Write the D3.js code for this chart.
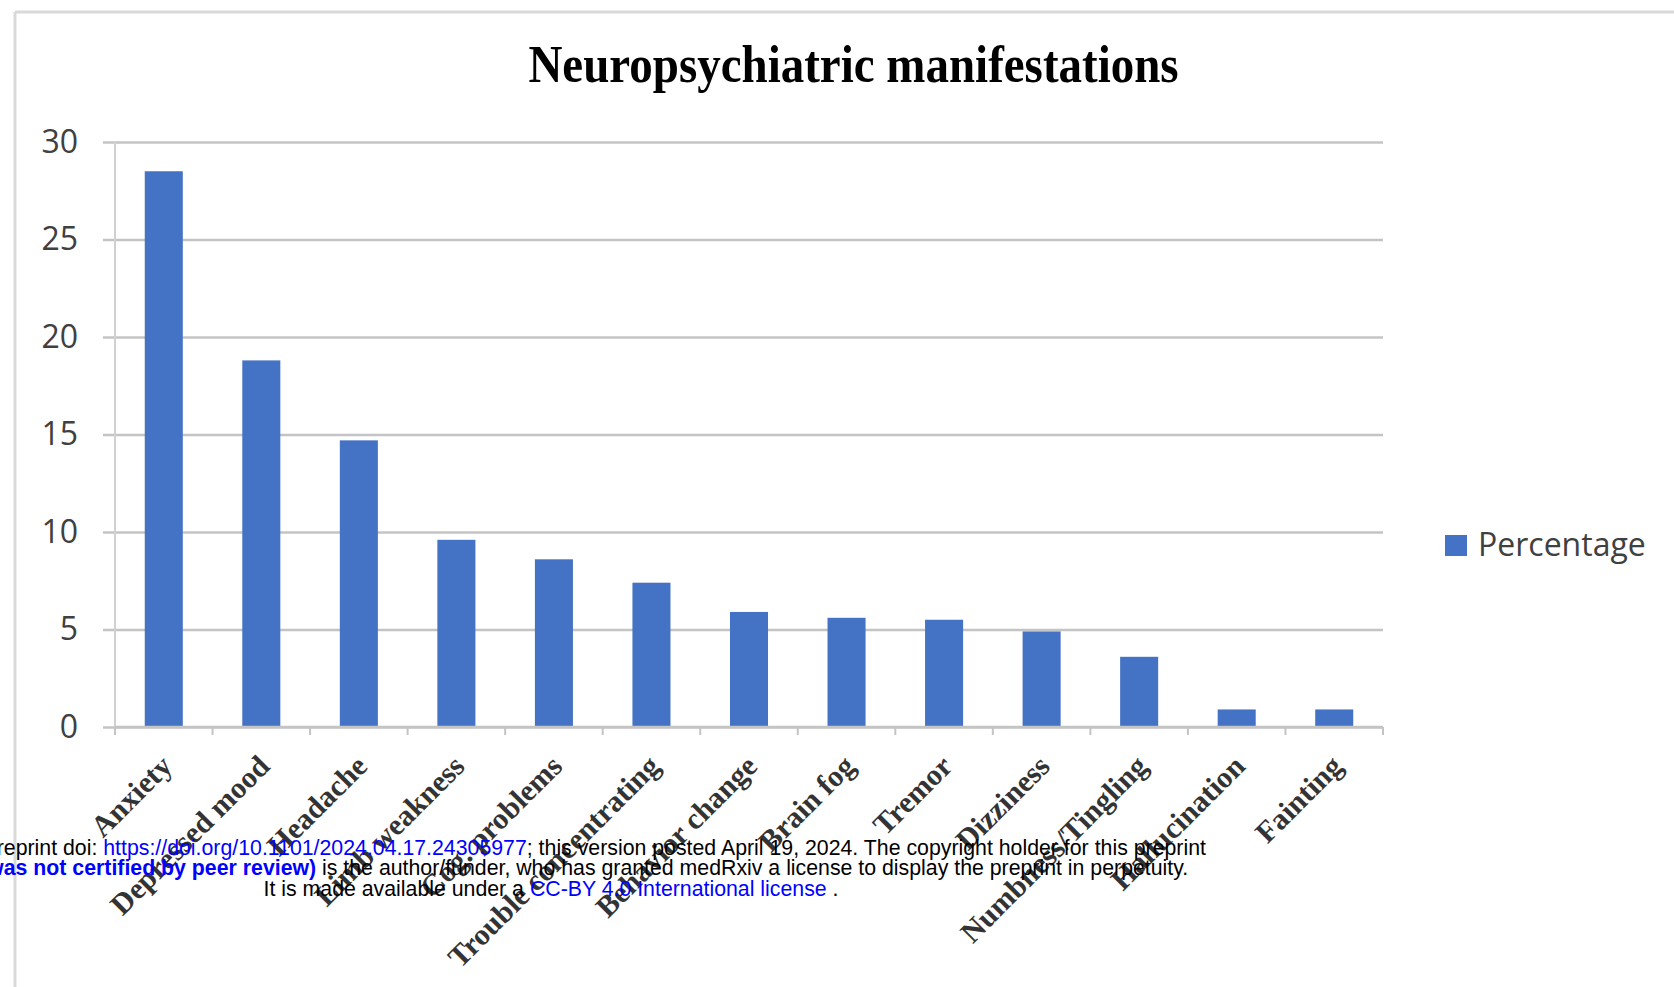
<!DOCTYPE html>
<html>
<head>
<meta charset="utf-8">
<script src="https://cdn.jsdelivr.net/npm/d3@7"></script>
<style>
  body { margin: 0; background: #ffffff; }
  .yAxis text { font-family: "Open Sans", sans-serif; font-size: 32px; fill: #404040; }
  .xAxis text { font-family: "Liberation Serif", "Times New Roman", serif; font-weight: bold; font-size: 30px; fill: #333333; }
  .foot { font-family: "Liberation Sans", Arial, sans-serif; font-size: 21.3px; }
</style>
</head>
<body>
<div id="chart"></div>
<script>
var categories = ["Anxiety", "Depressed mood", "Headache", "Limb weakness", "Cog. problems",
    "Trouble concentrating", "Behavior change", "Brain fog", "Tremor", "Dizziness",
    "Numbness/Tingling", "Hallucination", "Fainting"];
var percentages = [28.5, 18.8, 14.7, 9.6, 8.6, 7.4, 5.9, 5.6, 5.5, 4.9, 3.6, 0.9, 0.9];
var yTicks = [0, 5, 10, 15, 20, 25, 30];
var seriesName = "Percentage";

var width = 1674;
var height = 987;

var plotLeft = 115;
var plotRight = 1383;
var plotTop = 142;
var plotBottom = 727;
var barColor = "#4472c4";
var gridColor = "#c4c4c4";

var svg = d3
    .select("#chart")
    .append("svg")
    .attr("width", width)
    .attr("height", height);

// outer frame (top and left edges only are visible)
svg.append("line")
    .attr("x1", 15).attr("y1", 12).attr("x2", width).attr("y2", 12)
    .attr("stroke", "#d9d9d9").attr("stroke-width", 3);
svg.append("line")
    .attr("x1", 15).attr("y1", 12).attr("x2", 15).attr("y2", height)
    .attr("stroke", "#d9d9d9").attr("stroke-width", 3);

var title = svg.append("g")
    .attr("transform", "translate(853.5,82) scale(1,1.12)");
title.append("text")
    .attr("text-anchor", "middle")
    .attr("font-family", "'Liberation Serif', 'Times New Roman', serif")
    .attr("font-weight", "bold")
    .attr("font-size", 47)
    .attr("fill", "#000")
    .text("Neuropsychiatric manifestations");

var xScale = d3
    .scaleBand()
    .domain(categories)
    .range([plotLeft, plotRight])
    .paddingInner(0.61)
    .paddingOuter(0.305);

var yScale = d3
    .scaleLinear()
    .domain([0, 30])
    .range([plotBottom, plotTop]);

var yAxis = d3.axisLeft(yScale)
    .tickValues(yTicks)
    .tickFormat(d3.format("d"))
    .tickSize(-(plotRight - 103))
    .tickPadding(25);

svg.append("g")
    .attr("class", "yAxis")
    .attr("transform", "translate(103,0)")
    .call(yAxis)
    .call(function(g) { g.select(".domain").remove(); })
    .call(function(g) {
        g.selectAll(".tick line")
            .attr("stroke", gridColor)
            .attr("stroke-width", 2.5);
    });

// vertical axis line
svg.append("line")
    .attr("x1", plotLeft).attr("x2", plotLeft)
    .attr("y1", plotTop).attr("y2", plotBottom)
    .attr("stroke", "#d0d0d0").attr("stroke-width", 2);

svg.selectAll(".bar")
    .data(categories)
    .enter()
    .append("rect")
    .attr("class", "bar")
    .attr("x", function(d) { return xScale(d); })
    .attr("width", xScale.bandwidth())
    .attr("y", function(d, i) { return yScale(percentages[i]); })
    .attr("height", function(d, i) { return yScale(0) - yScale(percentages[i]); })
    .attr("fill", barColor);

// category axis line and boundary ticks
svg.append("line")
    .attr("x1", plotLeft).attr("x2", plotRight)
    .attr("y1", plotBottom).attr("y2", plotBottom)
    .attr("stroke", gridColor).attr("stroke-width", 2.5);

var gap = (xScale.step() - xScale.bandwidth()) / 2;
var bounds = categories.map(function(d) { return xScale(d) - gap; });
bounds.push(plotRight);

svg.selectAll(".xTick")
    .data(bounds)
    .enter()
    .append("line")
    .attr("class", "xTick")
    .attr("x1", function(d) { return d; })
    .attr("x2", function(d) { return d; })
    .attr("y1", plotBottom)
    .attr("y2", plotBottom + 8)
    .attr("stroke", gridColor)
    .attr("stroke-width", 2);

var xAxis = d3.axisBottom(xScale).tickSize(0);

svg.append("g")
    .attr("class", "xAxis")
    .attr("transform", "translate(0," + plotBottom + ")")
    .call(xAxis)
    .call(function(g) { g.select(".domain").remove(); })
    .selectAll("text")
    .attr("x", 0)
    .attr("y", 0)
    .attr("dy", 0)
    .attr("text-anchor", "end")
    .attr("transform", "translate(10,41) rotate(-45)");

// legend
svg.append("rect")
    .attr("x", 1445).attr("y", 535)
    .attr("width", 22).attr("height", 21)
    .attr("fill", barColor);
svg.append("text")
    .attr("x", 1478).attr("y", 556)
    .attr("font-family", "'Open Sans', sans-serif")
    .attr("font-size", 32)
    .attr("fill", "#404040")
    .text(seriesName);

// medRxiv stamp over the figure
var footLines = [
    [["medRxiv preprint doi: ", "#000", "normal"],
     ["https://doi.org/10.1101/2024.04.17.24305977", "#0000ff", "normal"],
     ["; this version posted April 19, 2024. The copyright holder for this preprint", "#000", "normal"]],
    [["(which was not certified by peer review)", "#0000ff", "bold"],
     [" is the author/funder, who has granted medRxiv a license to display the preprint in perpetuity.", "#000", "normal"]],
    [["It is made available under a ", "#000", "normal"],
     ["CC-BY 4.0 International license", "#0000ff", "normal"],
     [" .", "#000", "normal"]]
];
var footY = [855, 875, 896];

footLines.forEach(function(parts, i) {
    var t = svg.append("text")
        .attr("class", "foot")
        .attr("x", 551)
        .attr("y", footY[i])
        .attr("text-anchor", "middle")
        .attr("xml:space", "preserve");
    parts.forEach(function(p) {
        t.append("tspan")
            .attr("fill", p[1])
            .attr("font-weight", p[2])
            .text(p[0]);
    });
});
</script>
</body>
</html>
